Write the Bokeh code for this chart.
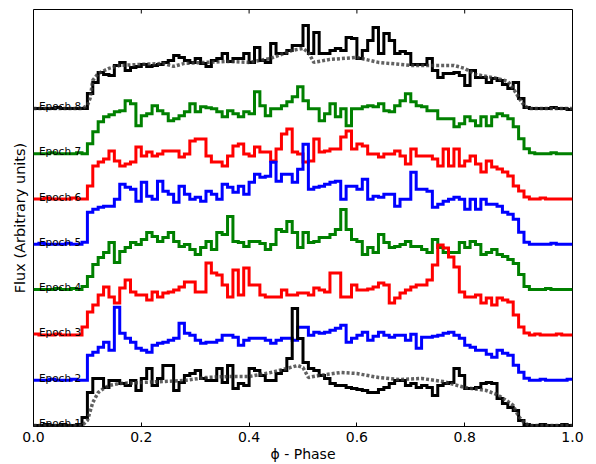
import numpy as np
from bokeh.plotting import figure
from bokeh.models import Range1d, FixedTicker, PrintfTickFormatter
from bokeh.embed import file_html
from bokeh.resources import INLINE
from bokeh.core.properties import value

# ---------------- data ----------------
bin_edges = [round(i * 0.01, 2) for i in range(101)]   # phase bins of width 0.01
x_ticks = [0.0, 0.2, 0.4, 0.6, 0.8, 1.0]

epoch_names = ["Epoch 1", "Epoch 2", "Epoch 3", "Epoch 4",
               "Epoch 5", "Epoch 6", "Epoch 7", "Epoch 8"]
epoch_colors = ["black", "blue", "red", "green", "blue", "red", "green", "black"]
epoch_offset = 45.3   # vertical shift between epochs (arbitrary flux units)

flux_e1 = [0, 0, 1, 0, 0, 1, 0, 0, 1, 8,
           33, 47, 47, 38, 45, 45, 42, 40, 45, 35,
           47, 57, 40, 47, 60, 60, 35, 43, 50, 52,
           55, 47, 45, 45, 57, 43, 60, 37, 42, 40,
           57, 55, 50, 45, 45, 52, 55, 67, 117, 87,
           63, 57, 55, 50, 47, 42, 40, 40, 38, 37,
           36, 35, 33, 33, 36, 38, 42, 45, 45, 40,
           42, 38, 40, 38, 30, 40, 42, 43, 57, 50,
           37, 37, 38, 42, 43, 42, 27, 22, 18, 15,
           5, 1, 0, 0, 1, 0, 0, 0, 1, 0]
flux_e2 = [0, 0, 0, 1, 0, 0, 0, 1, 0, 0,
           25, 28, 33, 38, 30, 73, 47, 42, 38, 32,
           30, 28, 35, 37, 38, 40, 42, 57, 47, 45,
           40, 37, 38, 38, 40, 45, 45, 43, 35, 40,
           42, 42, 42, 40, 37, 40, 42, 42, 40, 53,
           53, 45, 48, 47, 48, 50, 52, 55, 38, 42,
           45, 48, 40, 44, 48, 45, 43, 45, 45, 40,
           46, 32, 43, 43, 44, 45, 47, 48, 45, 42,
           35, 33, 30, 30, 26, 23, 30, 27, 25, 15,
           8, 2, 0, 0, 1, 0, 0, 0, 0, 1]
flux_e3 = [1, 0, 0, 0, 1, 0, 0, 0, 0, 8,
           23, 30, 40, 48, 38, 32, 47, 55, 43, 40,
           40, 35, 43, 38, 42, 43, 45, 48, 53, 53,
           43, 43, 72, 62, 60, 50, 38, 65, 40, 67,
           50, 50, 40, 38, 38, 38, 45, 40, 40, 42,
           42, 40, 47, 45, 43, 62, 62, 38, 38, 50,
           45, 45, 46, 48, 52, 50, 32, 37, 42, 45,
           48, 50, 50, 55, 70, 90, 87, 78, 68, 43,
           38, 38, 40, 32, 37, 30, 37, 35, 33, 20,
           8, 2, 0, 1, 0, 0, 0, 1, 0, 0]
flux_e4 = [0, 0, 0, 0, 1, 0, 0, 1, 0, 3,
           13, 25, 32, 37, 47, 27, 38, 42, 47, 45,
           50, 57, 53, 48, 52, 57, 48, 43, 45, 40,
           35, 42, 48, 40, 57, 55, 73, 48, 47, 43,
           48, 48, 46, 40, 45, 60, 58, 68, 57, 42,
           57, 47, 48, 52, 52, 55, 60, 80, 60, 50,
           48, 35, 42, 37, 55, 47, 42, 43, 45, 48,
           43, 43, 40, 37, 50, 42, 37, 37, 37, 47,
           42, 48, 45, 35, 37, 40, 35, 33, 30, 26,
           15, 3, 0, 0, 0, 1, 0, 0, 0, 0]
flux_e5 = [0, 1, 0, 0, 0, 0, 1, 0, 0, 2,
           32, 35, 37, 38, 38, 45, 60, 57, 55, 43,
           62, 48, 45, 63, 53, 50, 42, 58, 50, 45,
           47, 43, 53, 50, 45, 60, 57, 52, 58, 50,
           62, 70, 67, 68, 82, 63, 70, 70, 62, 75,
           100, 55, 57, 58, 60, 62, 63, 45, 58, 58,
           55, 65, 45, 48, 47, 50, 50, 38, 45, 45,
           72, 55, 55, 53, 37, 40, 43, 45, 47, 45,
           35, 45, 35, 45, 40, 40, 38, 32, 30, 25,
           12, 2, 0, 0, 0, 0, 1, 0, 0, 0]
flux_e6 = [0, 0, 1, 0, 0, 0, 0, 1, 0, 0,
           13, 33, 37, 40, 48, 38, 33, 35, 37, 52,
           43, 47, 43, 45, 48, 48, 48, 42, 45, 58,
           60, 60, 43, 37, 37, 33, 43, 53, 55, 45,
           43, 52, 47, 47, 38, 50, 65, 70, 47, 45,
           37, 38, 60, 47, 48, 50, 50, 62, 68, 50,
           55, 53, 45, 45, 42, 45, 45, 48, 43, 35,
           50, 43, 43, 43, 40, 33, 50, 33, 50, 33,
           38, 43, 35, 27, 38, 32, 30, 27, 23, 13,
           8, 2, 0, 0, 1, 0, 0, 0, 0, 0]
flux_e7 = [0, 0, 0, 1, 0, 0, 0, 0, 1, 0,
           10, 22, 32, 37, 39, 42, 43, 53, 50, 28,
           38, 40, 48, 43, 40, 33, 35, 38, 42, 50,
           42, 47, 46, 45, 42, 37, 43, 40, 37, 42,
           40, 62, 48, 38, 45, 45, 48, 52, 57, 67,
           53, 45, 45, 33, 40, 50, 37, 45, 28, 45,
           45, 47, 48, 47, 50, 43, 42, 48, 53, 60,
           52, 48, 47, 43, 43, 35, 35, 35, 27, 30,
           37, 33, 28, 37, 28, 37, 40, 38, 35, 27,
           15, 5, 1, 0, 0, 0, 1, 0, 0, 0]
flux_e8 = [0, 0, 0, 0, 1, 0, 0, 0, 0, 0,
           15, 26, 36, 34, 33, 43, 46, 38, 41, 42,
           44, 42, 43, 44, 46, 48, 53, 51, 48, 46,
           50, 45, 42, 48, 50, 55, 47, 50, 50, 55,
           46, 61, 48, 46, 65, 55, 55, 58, 63, 63,
           83, 55, 76, 55, 55, 58, 60, 58, 71, 70,
           50, 58, 68, 81, 55, 75, 68, 55, 57, 55,
           44, 44, 44, 50, 38, 31, 35, 35, 36, 33,
           23, 38, 31, 31, 26, 30, 28, 24, 20, 26,
           10, 1, 0, 0, 0, 0, 1, 0, 0, -1]
epoch_fluxes = [flux_e1, flux_e2, flux_e3, flux_e4,
                flux_e5, flux_e6, flux_e7, flux_e8]

# smooth model curves (grey) for epochs 1 and 8
model_e1_phase = [0.0, 0.09, 0.10, 0.11, 0.12, 0.13, 0.14, 0.16, 0.20, 0.24, 0.28,
                  0.32, 0.36, 0.40, 0.44, 0.47, 0.49, 0.50, 0.51, 0.53, 0.57,
                  0.60, 0.64, 0.68, 0.72, 0.76, 0.80, 0.84, 0.86, 0.88, 0.89,
                  0.90, 0.91, 0.92, 1.0]
model_e1_flux = [0, 0, 5, 23, 33, 37, 40, 42, 43, 44, 45,
                 48, 49, 49, 53, 57, 60, 58, 48, 50, 53,
                 52, 48, 46, 47, 44, 38, 35, 31, 24, 20,
                 9, 3, 0, 0]
model_e8_phase = [0.0, 0.09, 0.10, 0.105, 0.11, 0.12, 0.14, 0.16, 0.20, 0.24, 0.26,
                  0.28, 0.32, 0.36, 0.40, 0.44, 0.48, 0.50, 0.51, 0.52, 0.55,
                  0.60, 0.64, 0.70, 0.75, 0.78, 0.80, 0.82, 0.86, 0.88, 0.89,
                  0.90, 0.91, 0.92, 1.0]
model_e8_flux = [0, 0, 3, 10, 28, 35, 40, 43, 44, 45, 42,
                 45, 46, 47, 46, 50, 58, 60, 56, 46, 49,
                 51, 46, 43, 43, 43, 40, 34, 30, 27, 20,
                 11, 3, 0, 0]

# ---------------- figure ----------------
Y0, Y1 = -1, 416
p = figure(width=596, height=464, x_range=Range1d(0, 1), y_range=Range1d(Y0, Y1),
           output_backend="svg", toolbar_location=None,
           min_border_left=33, min_border_right=24, min_border_top=9, min_border_bottom=38)
p.xgrid.visible = False
p.ygrid.visible = False
p.outline_line_color = "black"
p.outline_line_width = 1
p.background_fill_color = "white"
p.border_fill_color = "white"

FONT = "DejaVu Sans"

xa = p.xaxis[0]
xa.ticker = FixedTicker(ticks=x_ticks)
xa.formatter = PrintfTickFormatter(format="%.1f")
xa.major_tick_in = 4
xa.major_tick_out = 0
xa.minor_tick_in = 0
xa.minor_tick_out = 0
xa.major_tick_line_color = "black"
xa.axis_line_color = None
xa.major_label_text_font = FONT
xa.major_label_text_font_size = "14px"
xa.major_label_text_color = "black"
xa.major_label_standoff = 5
xa.axis_label = "\u03d5 - Phase"
xa.axis_label_text_font = FONT
xa.axis_label_text_font_size = "14px"
xa.axis_label_text_font_style = "normal"
xa.axis_label_text_color = "black"
xa.axis_label_standoff = 1

ya = p.yaxis[0]
ya.ticker = FixedTicker(ticks=[])
ya.major_tick_in = 0
ya.major_tick_out = 0
ya.minor_tick_in = 0
ya.minor_tick_out = 0
ya.axis_line_color = None
ya.axis_label = "Flux (Arbitrary units)"
ya.axis_label_text_font = FONT
ya.axis_label_text_font_size = "14.5px"
ya.axis_label_text_font_style = "normal"
ya.axis_label_text_color = "black"
ya.axis_label_standoff = 6

# inward ticks along the top edge (same tick positions as the bottom axis)
p.segment(x0=x_ticks, y0=[Y1] * len(x_ticks), x1=x_ticks, y1=[Y1 - 4] * len(x_ticks),
          line_color="black", line_width=1)

# step curves, drawn from top epoch down so lower epochs lie on top
step_x = bin_edges[:-1] + [bin_edges[-1]]
for k in range(7, -1, -1):
    vals = epoch_fluxes[k]
    ys = [v + k * epoch_offset for v in vals] + [vals[-1] + k * epoch_offset]
    p.step(x=step_x, y=ys, mode="after", line_color=epoch_colors[k],
           line_width=3, line_join="miter")

for ph, fl, k in [(model_e1_phase, model_e1_flux, 0), (model_e8_phase, model_e8_flux, 7)]:
    p.line(x=ph, y=[v + k * epoch_offset for v in fl], line_color="#3a3a3a",
           line_alpha=0.8, line_width=3.5, line_dash="3 2", line_cap="butt")

label_x = [0.01] * len(epoch_names)
label_y = [k * epoch_offset + 2.5 for k in range(len(epoch_names))]
p.text(x=label_x, y=label_y, text=epoch_names, text_font=value(FONT),
       text_font_size="10.5px", text_color="black", text_baseline="alphabetic",
       text_align="left")

open("out.html", "w").write(file_html(p, INLINE))
